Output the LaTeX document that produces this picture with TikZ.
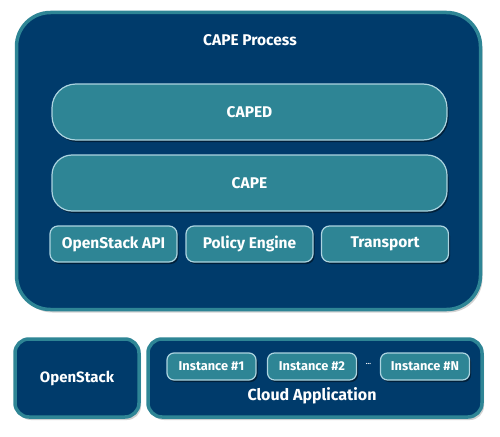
\documentclass[tikz,border=0pt]{standalone}
\usepackage{fontspec}
\setmainfont{Fira Sans}
\usetikzlibrary{shadows,positioning}
\definecolor{capenavy}{RGB}{0,59,107}
\definecolor{capeteal}{RGB}{46,133,149}
\definecolor{capeedge}{RGB}{172,212,224}
\tikzset{
  frame/.style={draw=capeteal, line width=3.5pt, fill=capenavy, text=white,
    drop shadow={opacity=0.35, shadow xshift=2pt, shadow yshift=-3pt}},
  pill/.style={draw=capeedge, line width=1.2pt, fill=capeteal, text=white,
    drop shadow={fill=black, opacity=0.45, shadow xshift=1.5pt, shadow yshift=-2pt}},
  label/.style={text=white, inner sep=0pt}
}
\begin{document}
\begin{tikzpicture}[x=1pt, y=-1pt, font=\bfseries, line join=round]
	\useasboundingbox[fill=white] (0,0) rectangle (500,436);
	% CAPE process frame
	\node[frame, minimum width=464, minimum height=297, rounded corners=34] (process) at (248.5,161) {};
	\node[label, font=\bfseries\fontsize{15.5}{18}\selectfont] (ptitle) at (250,40) {CAPE Process};
	\node[pill, minimum width=395, minimum height=56, rounded corners=24, font=\bfseries\fontsize{15.5}{18}\selectfont] (caped) at (249.5,112) {CAPED};
	\node[pill, minimum width=395, minimum height=56, rounded corners=20, font=\bfseries\fontsize{15.5}{18}\selectfont] (cape) at (249.5,183) {CAPE};
	\foreach \n/\x/\t in {api/113.5/OpenStack API, policy/249.5/Policy Engine, transport/385/Transport}
		\node[pill, minimum width=127, minimum height=36, rounded corners=8, font=\bfseries\fontsize{15.5}{18}\selectfont] (\n) at (\x,244) {\t};
	% bottom row
	\node[frame, minimum width=124, minimum height=78, rounded corners=14, font=\bfseries\fontsize{15}{18}\selectfont] (openstack) at (77,378) {OpenStack};
	\node[frame, minimum width=334, minimum height=78, rounded corners=14] (cloud) at (315,378) {};
	\node[label, font=\bfseries\fontsize{16}{18}\selectfont] (cloudlbl) at (312,396) {Cloud Application};
	\foreach \n/\x/\t in {inst1/211.5/Instance \#1, inst2/312/Instance \#2, instn/425/Instance \#N}
		\node[pill, minimum width=89, minimum height=27, rounded corners=7, font=\bfseries\fontsize{12.8}{15}\selectfont] (\n) at (\x,366.5) {\t};
	\node[label, font=\bfseries\fontsize{7}{8}\selectfont] (dots) at (368.5,364) {...};
\end{tikzpicture}
\end{document}
